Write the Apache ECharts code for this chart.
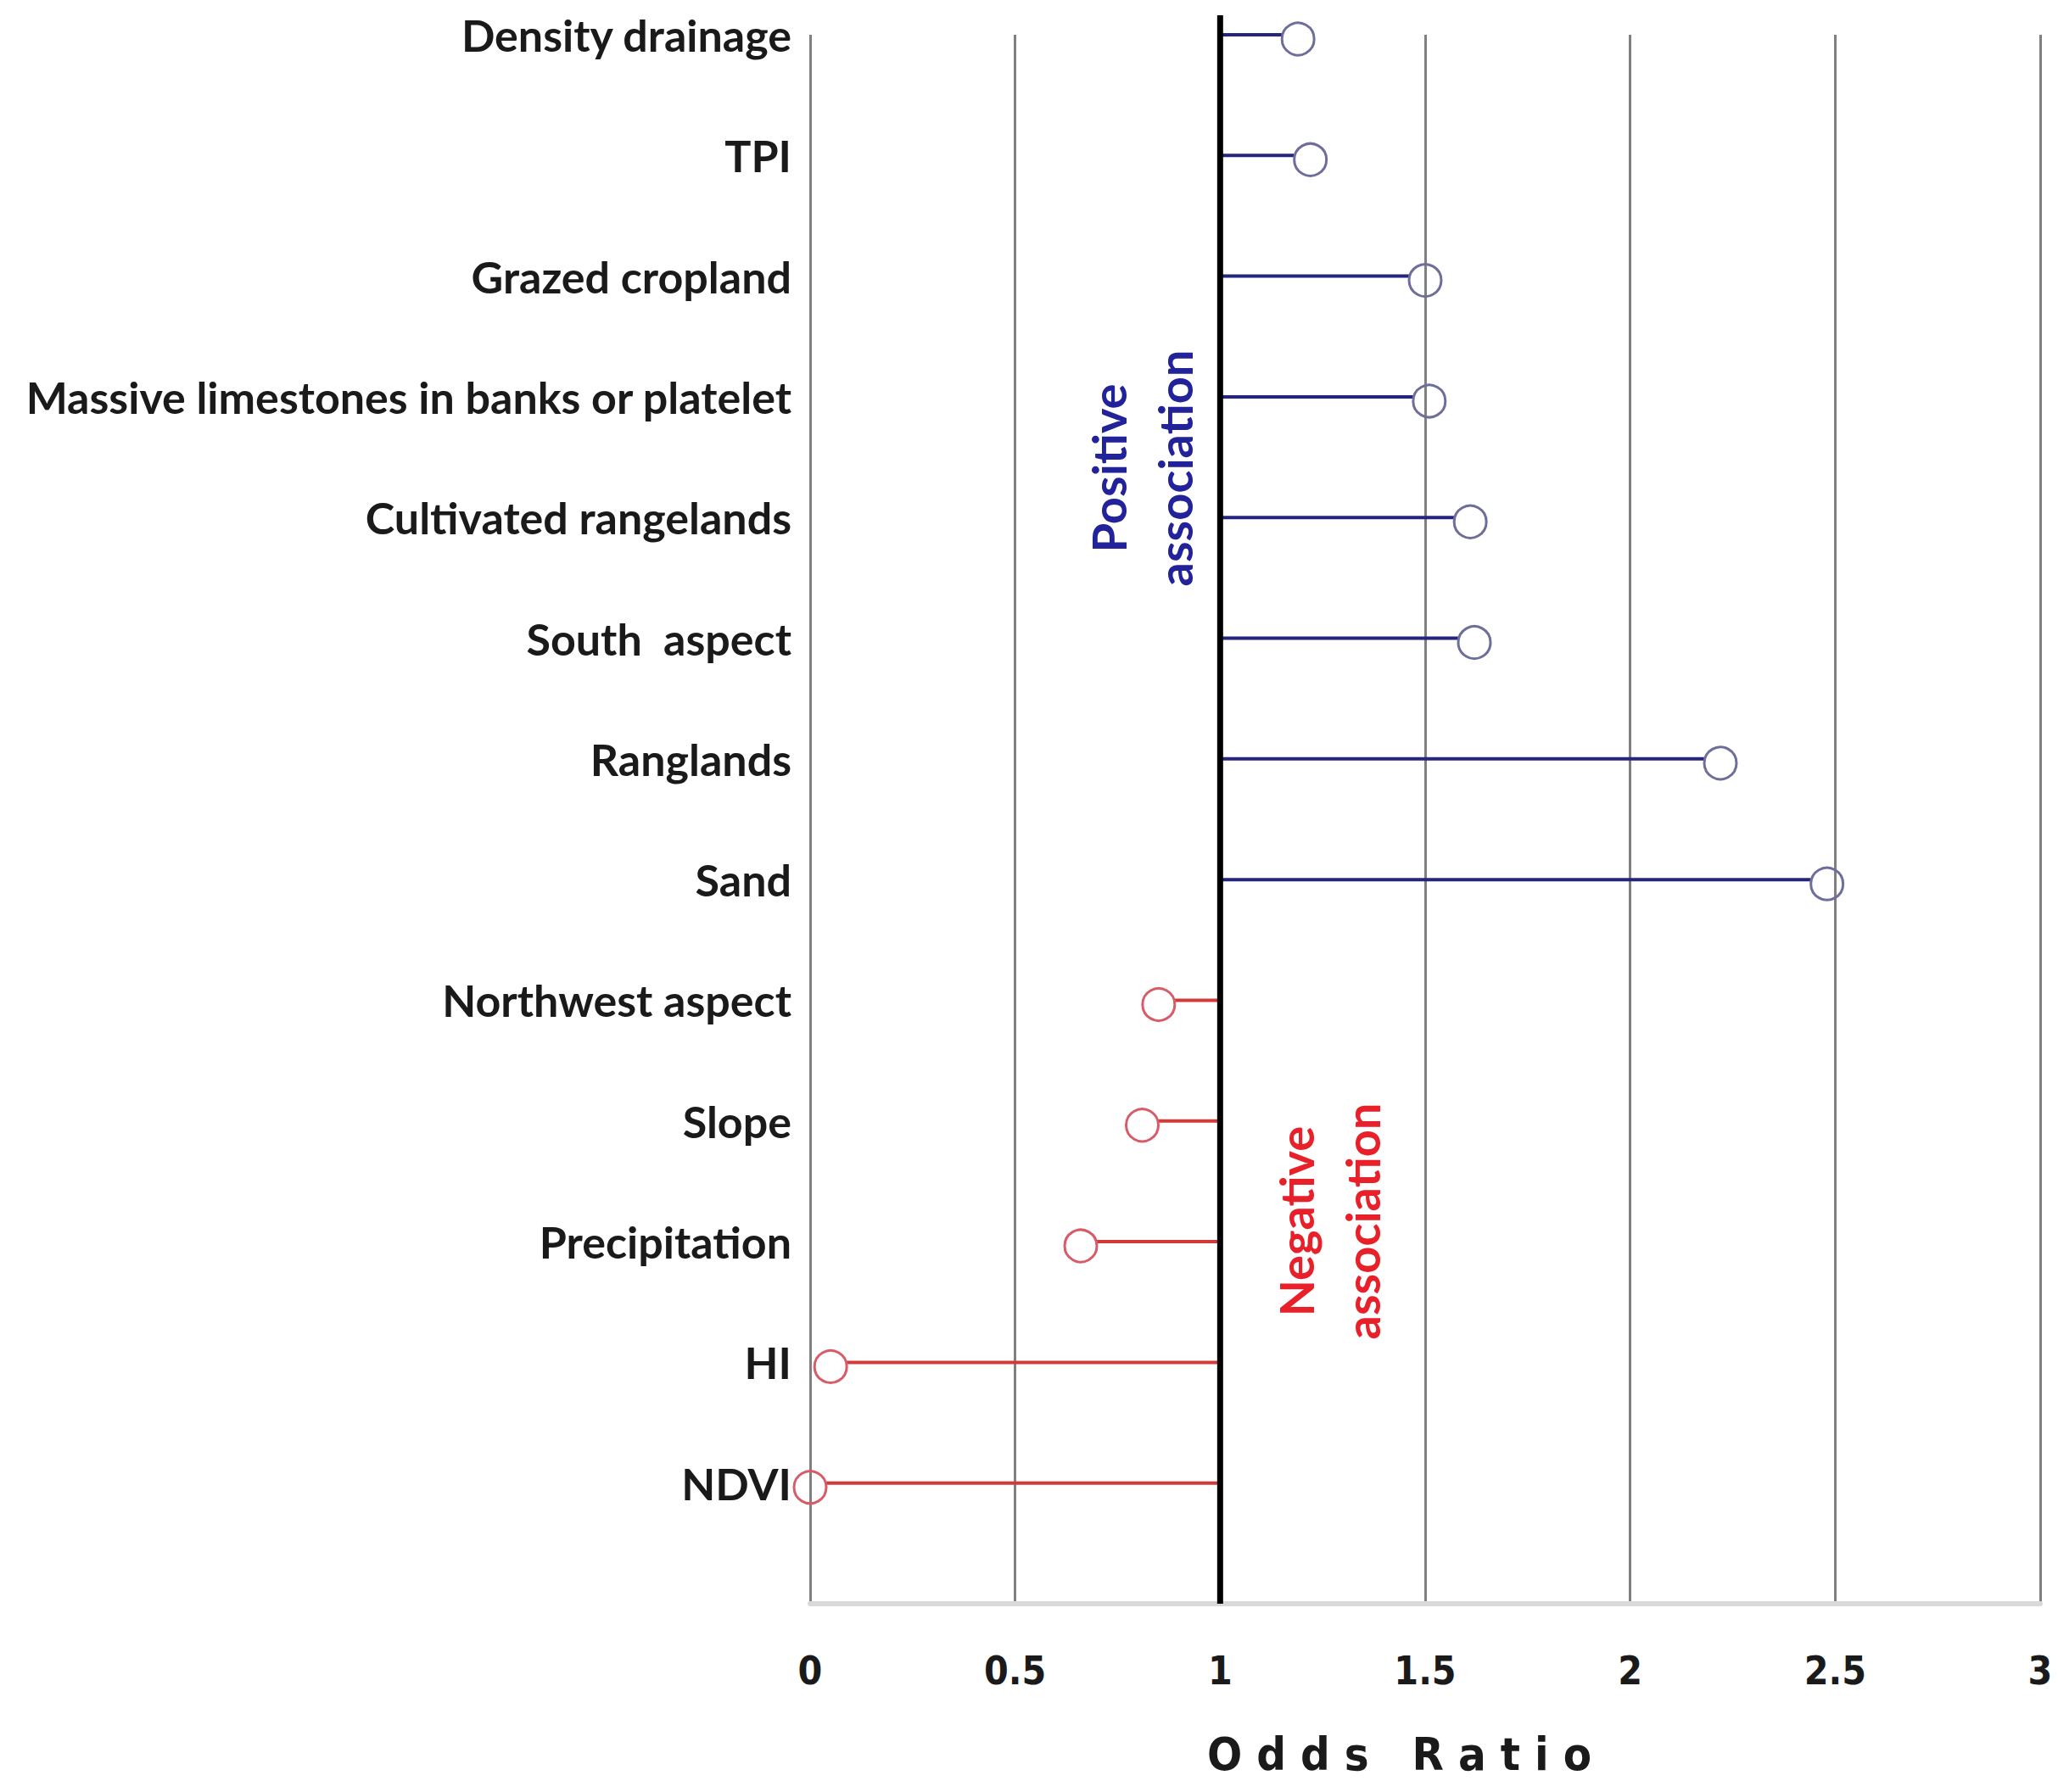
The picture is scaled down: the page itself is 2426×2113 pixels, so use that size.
<!DOCTYPE html>
<html>
<head>
<meta charset="utf-8">
<script src="https://cdn.jsdelivr.net/npm/echarts@6/dist/echarts.min.js"></script>
<style>
  html, body { margin: 0; padding: 0; background: #ffffff; }
  #chart { width: 2426px; height: 2113px; }
</style>
</head>
<body>
<div id="chart"></div>
<script>
// ---- data (bottom to top; first slot is the empty baseline row) ----
const categories = ['', 'NDVI', 'HI', 'Precipitation', 'Slope', 'Northwest aspect',
  'Sand', 'Ranglands', 'South  aspect', 'Cultivated rangelands',
  'Massive limestones in banks or platelet', 'Grazed cropland', 'TPI', 'Density drainage'];

const positiveFactors = ['Sand', 'Ranglands', 'South  aspect', 'Cultivated rangelands',
  'Massive limestones in banks or platelet', 'Grazed cropland', 'TPI', 'Density drainage'];
const positiveOdds = [2.48, 2.22, 1.62, 1.61, 1.51, 1.50, 1.22, 1.19];

const negativeFactors = ['NDVI', 'HI', 'Precipitation', 'Slope', 'Northwest aspect'];
const negativeOdds = [0.00, 0.05, 0.66, 0.81, 0.85];

const xTicks = { min: 0, max: 3, interval: 0.5 };
const referenceOdds = 1;

const chart = echarts.init(document.getElementById('chart'), null, { renderer: 'svg' });

function lollipop(stemColor, ringColor) {
  return function (params, api) {
    const v = api.value(0);
    const cat = api.value(1);
    const base = api.coord([referenceOdds, cat]);
    const tip = api.coord([v, cat]);
    const r = 19;
    const dir = v >= referenceOdds ? 1 : -1;
    return {
      type: 'group',
      children: [
        { type: 'line', shape: { x1: base[0], y1: base[1], x2: tip[0] - dir * r, y2: tip[1] },
          style: { stroke: stemColor, lineWidth: 4 } },
        { type: 'circle', shape: { cx: tip[0], cy: tip[1] + 5, r: r },
          style: { fill: 'none', stroke: ringColor, lineWidth: 3 } }
      ]
    };
  };
}

const labelFont = 'Lato, "Liberation Sans", sans-serif';
const tickFont = '"DejaVu Sans Condensed", "DejaVu Sans", sans-serif';

chart.setOption({
  animation: false,
  backgroundColor: '#ffffff',
  grid: { left: 955, right: 21, top: 41, bottom: 222, containLabel: false },
  xAxis: {
    type: 'value',
    min: xTicks.min, max: xTicks.max, interval: xTicks.interval,
    axisLine: { show: true, lineStyle: { color: '#d9d9d9', width: 6 } },
    axisTick: { show: false },
    splitLine: { show: true, lineStyle: { color: '#808080', width: 3 } },
    axisLabel: { margin: 56, fontFamily: tickFont, fontWeight: 'bold', fontSize: 46, color: '#1a1a1a' },
    name: 'Odds Ratio',
    nameLocation: 'middle',
    nameGap: 150,
    nameTextStyle: { fontFamily: tickFont, fontWeight: 'bold', fontSize: 54, color: '#1a1a1a',
      padding: [0, 44, 0, 0] }
  },
  yAxis: {
    type: 'category',
    data: categories,
    boundaryGap: false,
    axisLine: { show: false },
    axisTick: { show: false },
    splitLine: { show: false },
    axisLabel: {
      margin: 22, fontFamily: labelFont, fontWeight: 'bold', fontSize: 52, color: '#1a1a1a',
      padding: [0, 0, 22, 0], interval: 0
    }
  },
  graphic: [
    { type: 'text', x: 1345, y: 552, rotation: Math.PI / 2, z: 10,
      style: { text: 'Positive\nassociation', fill: '#22229a', font: 'bold 56px ' + labelFont,
        align: 'center', verticalAlign: 'middle', lineHeight: 78 } },
    { type: 'text', x: 1566, y: 1440, rotation: Math.PI / 2, z: 10,
      style: { text: 'Negative\nassociation', fill: '#e8202a', font: 'bold 56px ' + labelFont,
        align: 'center', verticalAlign: 'middle', lineHeight: 78 } }
  ],
  series: [
    {
      type: 'custom', name: 'Positive association',
      encode: { x: 0, y: 1 },
      data: positiveFactors.map((f, i) => [positiveOdds[i], f]),
      renderItem: lollipop('#25257e', '#6e6e9c'),
      z: 3
    },
    {
      type: 'custom', name: 'Negative association',
      encode: { x: 0, y: 1 },
      data: negativeFactors.map((f, i) => [negativeOdds[i], f]),
      renderItem: lollipop('#d23a3a', '#d85c68'),
      z: 3
    },
    {
      type: 'custom', name: 'Reference',
      encode: { x: 0, y: 1 },
      data: [[referenceOdds, categories.length - 1]],
      renderItem: function (params, api) {
        const top = api.coord([api.value(0), categories.length - 1]);
        const bottom = api.coord([api.value(0), 0]);
        return { type: 'line', shape: { x1: top[0], y1: top[1] - 23, x2: bottom[0], y2: bottom[1] },
          style: { stroke: '#000000', lineWidth: 7 } };
      },
      z: 5
    }
  ]
});

function spaceAxisName() {
  document.querySelectorAll('#chart text').forEach(function (t) {
    if (t.textContent === 'Odds Ratio') {
      t.style.letterSpacing = '17px';
    }
  });
}
spaceAxisName();
chart.on('finished', spaceAxisName);
setTimeout(spaceAxisName, 100);
</script>
</body>
</html>
